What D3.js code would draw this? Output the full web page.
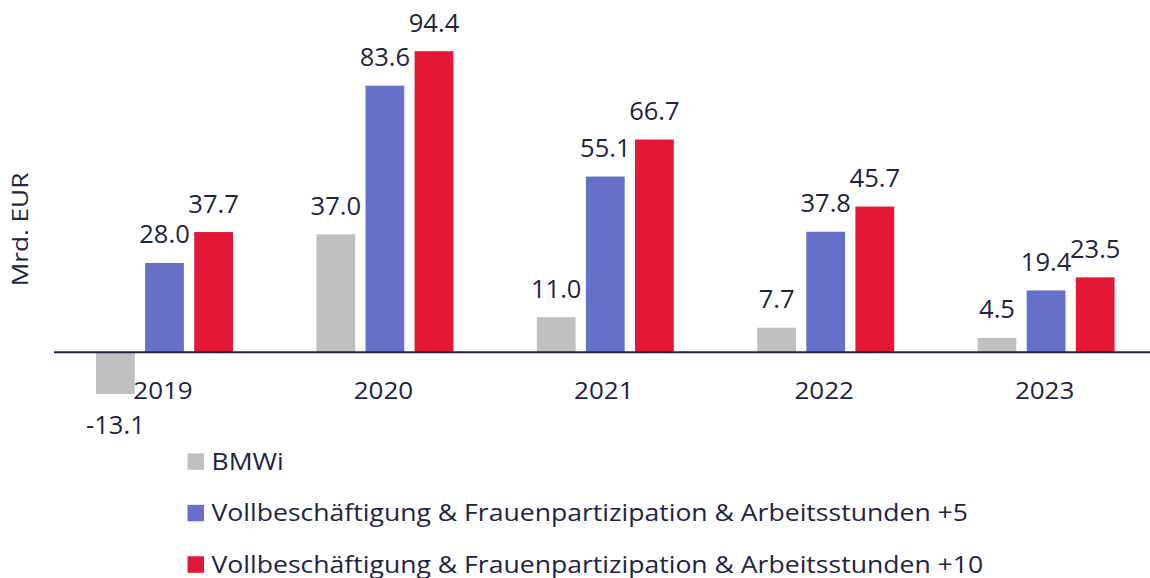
<!DOCTYPE html>
<html>
<head>
<meta charset="utf-8">
<script src="https://cdn.jsdelivr.net/npm/d3@7"></script>
<style>
  html, body { margin: 0; padding: 0; background: #ffffff; }
  svg { display: block; }
  text { font-family: "Open Sans", sans-serif; fill: #1f2346; }
</style>
</head>
<body>
<svg id="chart" width="1150" height="578"></svg>
<script>
const years = ["2019", "2020", "2021", "2022", "2023"];
const seriesNames = [
  "BMWi",
  "Vollbeschäftigung & Frauenpartizipation & Arbeitsstunden +5",
  "Vollbeschäftigung & Frauenpartizipation & Arbeitsstunden +10"
];
const bmwi = [-13.1, 37.0, 11.0, 7.7, 4.5];
const plus5 = [28.0, 83.6, 55.1, 37.8, 19.4];
const plus10 = [37.7, 94.4, 66.7, 45.7, 23.5];
const colors = ["#c0c0c0", "#6770c8", "#e31837"];
const yTitle = "Mrd. EUR";

const seriesValues = [bmwi, plus5, plus10];
const data = years.map((y, i) => ({
  year: y,
  values: seriesNames.map((s, j) => ({ key: s, idx: j, value: seriesValues[j][i] }))
}));

const svg = d3.select("#chart");

const x0 = d3.scaleBand().domain(years).range([54.3, 1156.3]).paddingInner(0).paddingOuter(0);
const groupW = 137;
const x1 = d3.scaleBand().domain(seriesNames).range([0, groupW]).paddingInner(0.21).paddingOuter(0);
const y = d3.scaleLinear().domain([0, 94.4]).range([352.3, 51.2]);

const groups = svg.append("g")
  .selectAll("g")
  .data(data)
  .join("g")
  .attr("transform", d => `translate(${x0(d.year) + x0.bandwidth() / 2 - groupW / 2},0)`);

groups.selectAll("rect")
  .data(d => d.values)
  .join("rect")
  .attr("x", d => x1(d.key))
  .attr("width", x1.bandwidth())
  .attr("y", d => Math.min(y(d.value), y(0)))
  .attr("height", d => Math.abs(y(d.value) - y(0)))
  .attr("fill", d => colors[d.idx]);

groups.selectAll("text.val")
  .data(d => d.values)
  .join("text")
  .attr("class", "val")
  .attr("transform", d => {
    const cx = x1(d.key) + x1.bandwidth() / 2;
    const cy = d.value >= 0 ? y(d.value) - 19.5 : y(d.value) + 39.5;
    return `translate(${cx},${cy}) scale(1.03,1)`;
  })
  .attr("text-anchor", "middle")
  .style("font-size", "24.8px")
  .text(d => d.value.toFixed(1));

// zero axis line
svg.append("line")
  .attr("x1", 54).attr("x2", 1150)
  .attr("y1", y(0)).attr("y2", y(0))
  .attr("stroke", "#1f2346")
  .attr("stroke-width", 2);

// year labels via axis
const xAxis = d3.axisBottom(x0).tickSize(0).tickPadding(0);
const axG = svg.append("g").attr("transform", `translate(-1.5,${y(0)})`).call(xAxis);
axG.select(".domain").remove();
axG.selectAll("text")
  .attr("y", 0)
  .attr("dy", null)
  .attr("transform", "translate(0,47) scale(1.07,1)")
  .style("font-size", "24.3px")
  .style("font-family", "'Open Sans', sans-serif")
  .attr("fill", "#1f2346");

// y title
svg.append("text")
  .attr("transform", "translate(28,229.5) rotate(-90) scale(1.247,1)")
  .attr("text-anchor", "middle")
  .style("font-size", "21px")
  .text(yTitle);

// legend
const leg = svg.append("g")
  .selectAll("g")
  .data(seriesNames)
  .join("g")
  .attr("transform", (d, i) => `translate(187.5,${453.3 + i * 51.5})`);
leg.append("rect")
  .attr("width", 16.5).attr("height", 16.5)
  .attr("fill", (d, i) => colors[i]);
leg.append("text")
  .attr("transform", "translate(24,16.3) scale(1.156,1)")
  .style("font-size", "23px")
  .text(d => d);
</script>
</body>
</html>
